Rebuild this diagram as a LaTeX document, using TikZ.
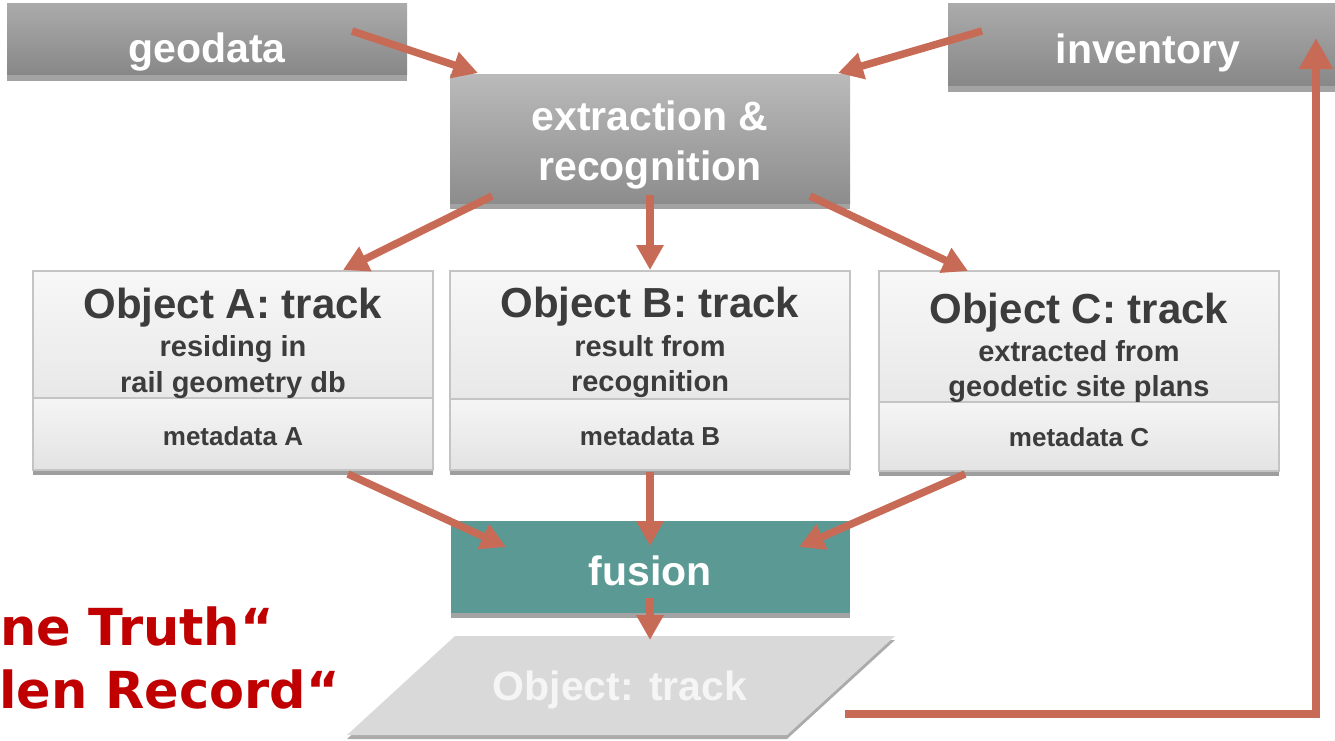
\documentclass[tikz,border=0pt]{standalone}
\usepackage{fontspec}
\setmainfont{Liberation Sans}
\newfontfamily\dejavu{DejaVu Sans}
\usetikzlibrary{arrows.meta,calc}
\definecolor{arrc}{RGB}{199,106,86}
\definecolor{tealc}{RGB}{91,154,148}
\definecolor{redt}{RGB}{192,0,0}
\definecolor{shad}{RGB}{163,163,163}
\definecolor{objtxt}{RGB}{60,60,60}
\definecolor{objedge}{RGB}{196,196,196}
\begin{document}
\begin{tikzpicture}[x=1pt,y=-1pt,
  graybox/.style={top color=black!33, bottom color=black!47, draw=none, anchor=north west, inner sep=0pt},
  bigw/.style={text=white, font=\bfseries\fontsize{41}{49}\selectfont, inner sep=0pt, anchor=base},
  objup/.style={top color=black!3, bottom color=black!9, draw=objedge, line width=1.2pt},
  objlow/.style={top color=black!4, bottom color=black!11, draw=objedge, line width=1.2pt},
  objtitle/.style={text=objtxt, font=\bfseries\fontsize{42}{49}\selectfont, inner sep=0pt, anchor=base},
  objsub/.style={text=objtxt, font=\bfseries\fontsize{29}{35}\selectfont, inner sep=0pt, anchor=base},
  objmeta/.style={text=objtxt, font=\bfseries\fontsize{26}{30}\selectfont, inner sep=0pt, anchor=base},
  arr/.style={draw=arrc, line width=7.5pt, -{Triangle[width=26pt,length=25pt]}},
  redtxt/.style={text=redt, font=\dejavu\bfseries\fontsize{51}{60}\selectfont, inner sep=0pt, anchor=base east}
]
\useasboundingbox (0,0) rectangle (1335,740);

% top boxes
\node[graybox, minimum width=400pt, minimum height=72pt] (geo) at (7,3) {};
\fill[shad] (geo.south west) rectangle ([yshift=-6pt]geo.south east);
\node[bigw] (geot) at (207,62) {geodata};
\node[graybox, minimum width=400pt, minimum height=83pt] (inv) at (948,3) {};
\fill[shad] (inv.south west) rectangle ([yshift=-6pt]inv.south east);
\node[bigw] (invt) at (1148,63) {inventory};
\node[graybox, top color=black!27, bottom color=black!45, minimum width=400pt, minimum height=130pt] (ext) at (450,74) {};
\fill[shad] (ext.south west) rectangle ([yshift=-5pt]ext.south east);
\node[bigw] (ext1) at (650,130) {extraction \&};
\node[bigw] (ext2) at (650,180) {recognition};

% object boxes
\fill[black!38] (33,470) rectangle (433,475);
\path[objup] (33,271) rectangle (433,398);
\path[objlow] (33,398) rectangle (433,470);
\node[objtitle] (ta) at (233,318) {Object A: track};
\node[objsub] (sa1) at (233,356) {residing in};
\node[objsub] (sa2) at (233,392) {rail geometry db};
\node[objmeta] (ma) at (233,445) {metadata A};

\fill[black!38] (450,470) rectangle (850,475);
\path[objup] (450,271) rectangle (850,399);
\path[objlow] (450,399) rectangle (850,470);
\node[objtitle] (tb) at (650,317) {Object B: track};
\node[objsub] (sb1) at (650,356) {result from};
\node[objsub] (sb2) at (650,391) {recognition};
\node[objmeta] (mb) at (650,445) {metadata B};

\fill[black!38] (879,471) rectangle (1279,476);
\path[objup] (879,271) rectangle (1279,402);
\path[objlow] (879,402) rectangle (1279,471);
\node[objtitle] (tc) at (1079,323) {Object C: track};
\node[objsub] (sc1) at (1079,361) {extracted from};
\node[objsub] (sc2) at (1079,396) {geodetic site plans};
\node[objmeta] (mc) at (1079,446) {metadata C};

% fusion
\node[fill=tealc, anchor=north west, minimum width=399pt, minimum height=92pt, inner sep=0pt] (fus) at (451,521) {};
\fill[shad] (fus.south west) rectangle ([yshift=-5pt]fus.south east);
\node[bigw] (fust) at (650,585) {fusion};

% result parallelogram
\fill[black!33] (455,640) -- (895,640) -- (787,739) -- (347,739) -- cycle;
\fill[black!15] (455,636) -- (895,636) -- (787,735) -- (347,735) -- cycle;
\node[bigw, text=black!4] (res) at (620,700) {Object: track};

% red text
\node[redtxt] (r1) at (274,645) {ne Truth“};
\node[redtxt] (r2) at (340,708) {len Record“};

% connectors
\coordinate (g1) at (352,31); \coordinate (g2) at (478,73);
\coordinate (i1) at (982,31); \coordinate (i2) at (838,73);
\coordinate (ea1) at (492,196); \coordinate (ea2) at (343,270);
\coordinate (eb1) at (650,195); \coordinate (eb2) at (650,270);
\coordinate (ec1) at (810,196); \coordinate (ec2) at (968,271);
\coordinate (af1) at (348,474); \coordinate (af2) at (506,547);
\coordinate (bf1) at (650,472); \coordinate (bf2) at (650,546);
\coordinate (cf1) at (965,474); \coordinate (cf2) at (799,547);
\coordinate (fo1) at (650,598); \coordinate (fo2) at (650,640);
\coordinate (fb1) at (845,714); \coordinate (fb2) at (1316,714); \coordinate (fb3) at (1316,38);

\draw[arr] (g1) -- (g2);
\draw[arr] (i1) -- (i2);
\draw[arr] (ea1) -- (ea2);
\draw[arr] (eb1) -- (eb2);
\draw[arr] (ec1) -- (ec2);
\draw[arr] (af1) -- (af2);
\draw[arr] (bf1) -- (bf2);
\draw[arr] (cf1) -- (cf2);
\draw[arr] (fo1) -- (fo2);
\draw[draw=arrc, line width=8pt, -{Triangle[width=32pt,length=31pt]}] (fb1) -- (fb2) -- (fb3);
\end{tikzpicture}
\end{document}
